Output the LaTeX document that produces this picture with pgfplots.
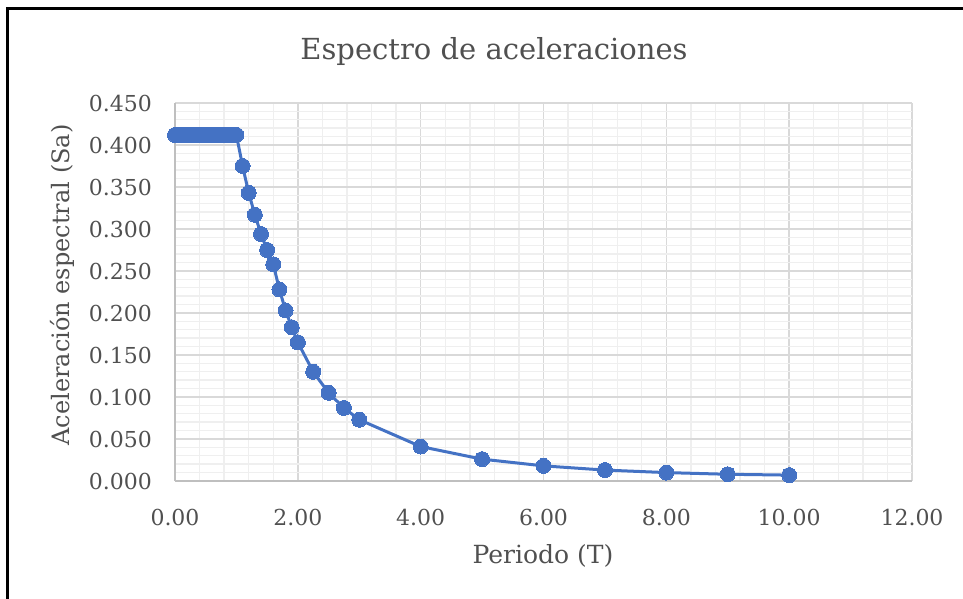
\documentclass[border=0pt]{standalone}
\usepackage{fontspec}
\setmainfont{DejaVu Serif}
\usepackage{pgfplots}
\pgfplotsset{compat=1.18}
\definecolor{txt}{HTML}{505050}
\definecolor{majorc}{HTML}{D9D9D9}
\definecolor{minorc}{HTML}{EFEFEF}
\definecolor{axc}{HTML}{BFBFBF}
\definecolor{ser}{HTML}{4472C4}
\begin{document}
\begin{tikzpicture}[x=1pt,y=1pt]
\useasboundingbox (0,0) rectangle (963,599);
\draw[line width=3pt, black] (7,0) -- (7,590) -- (963,590);
\node[txt, font=\fontsize{29}{34}\selectfont] at (494,547) {Espectro de aceleraciones};
\node[txt, font=\fontsize{24}{28}\selectfont, rotate=90] at (62,314) {Aceleración espectral (Sa)};
\node[txt, font=\fontsize{25}{30}\selectfont] at (543,43) {Periodo (T)};
\begin{axis}[
  at={(175pt,118pt)}, anchor=south west,
  scale only axis, width=737pt, height=378pt,
  xmin=0, xmax=12, ymin=0, ymax=0.45,
  xtick={0,2,4,6,8,10,12},
  ytick={0,0.05,0.1,0.15,0.2,0.25,0.3,0.35,0.4,0.45},
  minor x tick num=4, minor y tick num=4,
  grid=both,
  major grid style={majorc, line width=1.4pt},
  minor grid style={minorc, line width=1.4pt},
  axis x line*=bottom, axis y line*=left,
  axis line style={axc, line width=1.6pt},
  tick style={draw=none},
  clip=false,
  /pgf/number format/assume math mode=true,
  ticklabel style={txt, font=\fontsize{22}{26}\selectfont},
  xticklabel style={/pgf/number format/.cd, fixed, fixed zerofill, precision=2, /tikz/.cd, anchor=base, yshift=-45pt},
  yticklabel style={/pgf/number format/.cd, fixed, fixed zerofill, precision=3, /tikz/.cd, anchor=east, inner sep=0pt, xshift=-23pt},
]
\addplot[color=ser, line width=3pt, mark=*, mark size=7.5pt, mark options={fill=ser, draw=ser, line width=0pt}] coordinates {
(0.00,0.412) (0.05,0.412) (0.10,0.412) (0.15,0.412) (0.20,0.412) (0.25,0.412) (0.30,0.412)
(0.35,0.412) (0.40,0.412) (0.45,0.412) (0.50,0.412) (0.55,0.412) (0.60,0.412) (0.65,0.412)
(0.70,0.412) (0.75,0.412) (0.80,0.412) (0.85,0.412) (0.90,0.412) (0.95,0.412) (1.00,0.412)
(1.1,0.375) (1.2,0.343) (1.3,0.317) (1.4,0.294) (1.5,0.275) (1.6,0.258) (1.7,0.228)
(1.8,0.203) (1.9,0.183) (2.0,0.165) (2.25,0.130) (2.5,0.105) (2.75,0.087) (3.0,0.073)
(4.0,0.041) (5.0,0.026) (6.0,0.018) (7.0,0.013) (8.0,0.010) (9.0,0.008) (10.0,0.007)
};
\end{axis}
\end{tikzpicture}
\end{document}
